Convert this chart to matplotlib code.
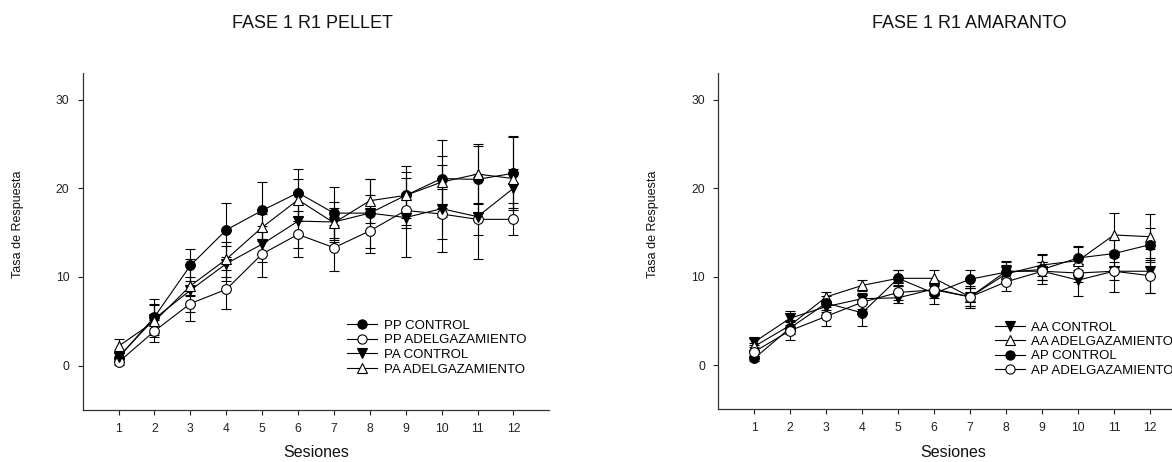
import matplotlib
matplotlib.use("Agg")
import matplotlib.pyplot as plt
import numpy as np

plt.rcParams['font.family'] = ['Liberation Sans', 'DejaVu Sans']

sessions = [1, 2, 3, 4, 5, 6, 7, 8, 9, 10, 11, 12]

# Left panel: FASE 1 R1 PELLET
pp_control = [0.9, 5.5, 11.3, 15.3, 17.5, 19.5, 17.2, 17.2, 19.2, 21.1, 21.0, 21.7]
pp_control_err = [0.5, 2.0, 1.8, 3.0, 3.2, 2.7, 3.0, 3.9, 3.3, 4.3, 3.8, 4.2]
pp_adelg = [0.4, 3.9, 7.0, 8.6, 12.6, 14.8, 13.3, 15.2, 17.5, 17.1, 16.5, 16.5]
pp_adelg_err = [0.3, 1.2, 0.9, 2.2, 2.6, 2.6, 2.6, 2.5, 2.0, 2.8, 1.8, 1.8]
pa_control = [1.0, 5.3, 8.5, 11.5, 13.7, 16.3, 16.2, 17.2, 16.7, 17.7, 16.8, 20.0]
pa_control_err = [0.5, 1.6, 3.5, 2.0, 2.0, 3.0, 2.2, 2.0, 4.5, 4.9, 4.8, 2.2]
pa_adelg = [2.2, 5.0, 9.0, 12.0, 15.6, 18.7, 16.1, 18.6, 19.2, 20.7, 21.6, 21.1]
pa_adelg_err = [0.8, 1.8, 1.0, 2.0, 1.5, 2.4, 1.7, 2.5, 2.6, 2.9, 3.4, 4.7]

# Right panel: FASE 1 R1 AMARANTO
aa_control = [2.6, 5.3, 6.6, 7.5, 7.6, 8.6, 7.7, 10.6, 10.6, 9.6, 10.6, 10.6]
aa_control_err = [0.3, 0.8, 0.6, 0.6, 0.6, 0.7, 1.0, 1.2, 1.0, 1.8, 2.3, 2.5]
aa_adelg = [2.1, 4.5, 7.7, 9.0, 9.8, 9.8, 7.7, 10.3, 11.3, 11.8, 14.7, 14.5]
aa_adelg_err = [0.4, 0.6, 0.5, 0.6, 0.9, 0.9, 1.2, 1.0, 1.2, 1.5, 2.5, 2.6]
ap_control = [0.75, 4.2, 7.0, 5.9, 9.8, 8.1, 9.7, 10.5, 10.8, 12.1, 12.6, 13.6]
ap_control_err = [0.3, 0.7, 0.8, 1.5, 0.9, 1.2, 1.0, 1.2, 1.6, 1.4, 1.5, 1.9]
ap_adelg = [1.5, 3.9, 5.5, 7.1, 8.2, 8.5, 7.7, 9.4, 10.6, 10.4, 10.6, 10.1]
ap_adelg_err = [0.5, 1.1, 1.1, 0.8, 0.8, 0.9, 1.0, 1.0, 1.0, 1.0, 1.0, 2.0]

yticks = [0, 10, 20, 30]

W, H = 1172, 462
fig = plt.figure(figsize=(W / 100, H / 100), dpi=100)


def px_axes(left, top, right, bottom):
    return fig.add_axes([left / W, 1 - bottom / H, (right - left) / W, (bottom - top) / H])


def draw_series(ax, y, err, marker, filled, label):
    ax.errorbar(sessions, y, yerr=err, fmt='none', ecolor='black', elinewidth=0.8,
                capsize=3.6, capthick=0.8, zorder=2)
    line, = ax.plot(sessions, y, color='black', lw=0.8, marker=marker, markersize=7,
                    markerfacecolor='black' if filled else 'white',
                    markeredgecolor='black', markeredgewidth=0.8, label=label, zorder=3)
    return line


def style_axes(ax):
    ax.set_xlim(0, 13)
    ax.set_ylim(-5, 33)
    ax.set_xticks(sessions)
    ax.set_yticks(yticks)
    ax.spines['top'].set_visible(False)
    ax.spines['right'].set_visible(False)
    for s in ('left', 'bottom'):
        ax.spines[s].set_linewidth(0.9)
        ax.spines[s].set_color('#333333')
    ax.tick_params(direction='out', length=3.5, width=0.8, labelsize=8.7, colors='#222222', pad=6)


# Left axes
ax1 = px_axes(82.7, 73, 549.3, 410)
h1 = [
    draw_series(ax1, pp_control, pp_control_err, 'o', True, 'PP CONTROL'),
    draw_series(ax1, pp_adelg, pp_adelg_err, 'o', False, 'PP ADELGAZAMIENTO'),
    draw_series(ax1, pa_control, pa_control_err, 'v', True, 'PA CONTROL'),
    draw_series(ax1, pa_adelg, pa_adelg_err, '^', False, 'PA ADELGAZAMIENTO'),
]
style_axes(ax1)
ax1.legend(handles=h1, loc='upper left', bbox_to_anchor=(346.7 / W, 1 - 319.5 / H),
           bbox_transform=fig.transFigure, frameon=False, borderpad=0, borderaxespad=0,
           handlelength=2.3, handletextpad=0.55, labelspacing=0.18, fontsize=9.5,
           markerscale=0.95)

# Right axes (extends past the figure's right edge, as in the reference)
ax2 = px_axes(718.3, 73, 1186, 409.3)
h2 = [
    draw_series(ax2, aa_control, aa_control_err, 'v', True, 'AA CONTROL'),
    draw_series(ax2, aa_adelg, aa_adelg_err, '^', False, 'AA ADELGAZAMIENTO'),
    draw_series(ax2, ap_control, ap_control_err, 'o', True, 'AP CONTROL'),
    draw_series(ax2, ap_adelg, ap_adelg_err, 'o', False, 'AP ADELGAZAMIENTO'),
]
style_axes(ax2)
ax2.legend(handles=h2, loc='upper left', bbox_to_anchor=(995 / W, 1 - 321.5 / H),
           bbox_transform=fig.transFigure, frameon=False, borderpad=0, borderaxespad=0,
           handlelength=2.3, handletextpad=0.45, labelspacing=0.16, fontsize=9.5,
           markerscale=0.95)

# Titles and axis labels
fig.text(312 / W, 1 - 28.5 / H, 'FASE 1 R1 PELLET', ha='center', va='baseline', fontsize=13, color='#111111')
fig.text(969 / W, 1 - 28.5 / H, 'FASE 1 R1 AMARANTO', ha='center', va='baseline', fontsize=13, color='#111111')
fig.text(18 / W, 1 - 224 / H, 'Tasa de Respuesta', rotation=90, ha='center', va='center', fontsize=9, color='#111111')
fig.text(653 / W, 1 - 224 / H, 'Tasa de Respuesta', rotation=90, ha='center', va='center', fontsize=9, color='#111111')
fig.text(316.7 / W, 1 - 457 / H, 'Sesiones', ha='center', va='baseline', fontsize=11.5, color='#111111')
fig.text(953 / W, 1 - 457 / H, 'Sesiones', ha='center', va='baseline', fontsize=11.5, color='#111111')

fig.savefig('out.png', dpi=100)
